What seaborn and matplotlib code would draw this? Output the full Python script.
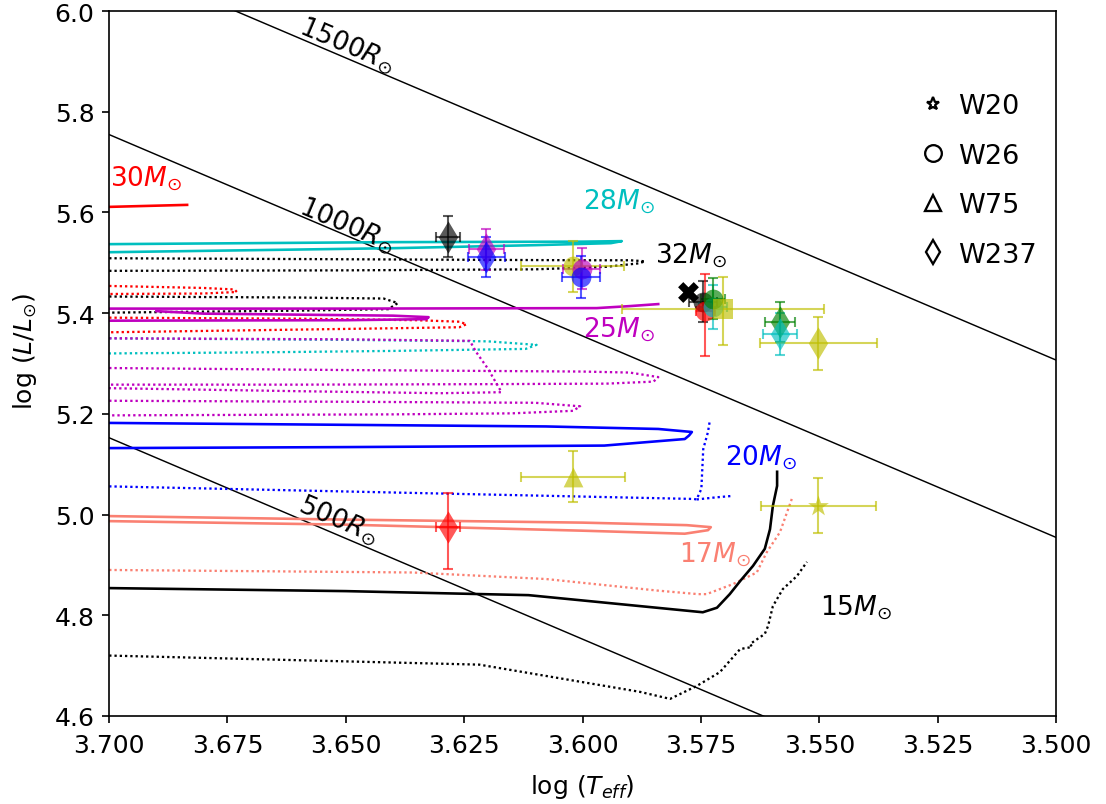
import matplotlib
matplotlib.use("Agg")
import matplotlib.pyplot as plt
from matplotlib.lines import Line2D
import numpy as np
import pandas as pd
import seaborn as sns

# ---------------------------------------------------------------
# Evolutionary tracks (log Teff, log L/Lsun); vertices beyond the
# left edge (log Teff > 3.70) only close loops that leave the frame.
# ---------------------------------------------------------------
m30_solid_T = [3.720, 3.700, 3.6835]
m30_solid_L = [5.609, 5.611, 5.615]
m30_dot_a_T = [3.720, 3.700, 3.680, 3.6735, 3.673, 3.680, 3.700, 3.720]
m30_dot_a_L = [5.455, 5.454, 5.450, 5.447, 5.442, 5.439, 5.438, 5.438]
m30_dot_b_T = [3.720, 3.700, 3.660, 3.635, 3.626, 3.6245, 3.626, 3.640, 3.670, 3.700, 3.720]
m30_dot_b_L = [5.391, 5.391, 5.389, 5.386, 5.383, 5.378, 5.372, 5.370, 5.366, 5.362, 5.361]

m28_solid_T = [3.720, 3.700, 3.640, 3.600, 3.5917, 3.594, 3.610, 3.640, 3.670, 3.700, 3.720]
m28_solid_L = [5.536, 5.537, 5.541, 5.542, 5.543, 5.539, 5.535, 5.529, 5.525, 5.521, 5.520]
m28_dot_T = [3.720, 3.700, 3.650, 3.620, 3.6097, 3.612, 3.640, 3.670, 3.700, 3.720]
m28_dot_L = [5.350, 5.350, 5.347, 5.344, 5.337, 5.329, 5.325, 5.322, 5.320, 5.320]

m32_dot_a_T = [3.720, 3.700, 3.650, 3.600, 3.590, 3.5868, 3.588, 3.595, 3.610, 3.650, 3.700, 3.720]
m32_dot_a_L = [5.509, 5.509, 5.507, 5.505, 5.505, 5.503, 5.499, 5.492, 5.487, 5.485, 5.484, 5.484]
m32_dot_b_T = [3.720, 3.700, 3.660, 3.642, 3.639, 3.641, 3.660, 3.700, 3.720]
m32_dot_b_L = [5.433, 5.433, 5.431, 5.429, 5.420, 5.408, 5.405, 5.401, 5.401]

m25_solid_a_T = [3.720, 3.700, 3.650, 3.597, 3.590, 3.584]
m25_solid_a_L = [5.409, 5.409, 5.409, 5.410, 5.414, 5.418]
m25_solid_b_T = [3.720, 3.700, 3.650, 3.633, 3.6325, 3.640, 3.660, 3.680, 3.690]
m25_solid_b_L = [5.385, 5.385, 5.386, 5.388, 5.392, 5.395, 5.397, 5.399, 5.404]
m25_dot_a_T = [3.720, 3.700, 3.650, 3.6238, 3.6224, 3.620, 3.6171, 3.630, 3.660, 3.700, 3.720]
m25_dot_a_L = [5.350, 5.350, 5.348, 5.345, 5.322, 5.290, 5.243, 5.241, 5.245, 5.251, 5.252]
m25_dot_b_T = [3.720, 3.700, 3.650, 3.600, 3.590, 3.584, 3.585, 3.595, 3.620, 3.660, 3.700, 3.720]
m25_dot_b_L = [5.291, 5.291, 5.287, 5.284, 5.282, 5.273, 5.264, 5.260, 5.259, 5.258, 5.258, 5.258]
m25_dot_c_T = [3.720, 3.700, 3.650, 3.610, 3.6005, 3.602, 3.615, 3.640, 3.700, 3.720]
m25_dot_c_L = [5.226, 5.226, 5.224, 5.222, 5.215, 5.206, 5.201, 5.199, 5.197, 5.197]

m20_solid_T = [3.720, 3.700, 3.6077, 3.584, 3.5769, 3.5775, 3.5784, 3.5954, 3.650, 3.700, 3.720]
m20_solid_L = [5.183, 5.182, 5.175, 5.170, 5.164, 5.157, 5.150, 5.137, 5.134, 5.132, 5.132]
m20_dot_a_T = [3.720, 3.700, 3.6359, 3.5765, 3.5759, 3.5749, 3.5745, 3.5735, 3.5731]
m20_dot_a_L = [5.057, 5.056, 5.043, 5.031, 5.030, 5.051, 5.130, 5.164, 5.187]
m20_dot_b_T = [3.5759, 3.5720, 3.5684]
m20_dot_b_L = [5.030, 5.034, 5.037]

m17_solid_T = [3.720, 3.700, 3.650, 3.600, 3.578, 3.5729, 3.5735, 3.5784, 3.600, 3.650, 3.700, 3.720]
m17_solid_L = [4.998, 4.997, 4.990, 4.984, 4.979, 4.975, 4.969, 4.962, 4.968, 4.980, 4.987, 4.987]
m17_dot_T = [3.720, 3.700, 3.6359, 3.6077, 3.5841, 3.5756, 3.5738, 3.5682, 3.5632, 3.5611, 3.5583, 3.5558]
m17_dot_L = [4.891, 4.890, 4.885, 4.872, 4.849, 4.842, 4.842, 4.862, 4.885, 4.925, 4.965, 5.031]

m15_solid_T = [3.720, 3.700, 3.650, 3.6114, 3.5746, 3.5716, 3.5689, 3.5667, 3.5640,
               3.5615, 3.5604, 3.5598, 3.5589, 3.5589]
m15_solid_L = [4.855, 4.854, 4.848, 4.840, 4.806, 4.815, 4.842, 4.868, 4.898,
               4.932, 4.971, 5.017, 5.057, 5.085]
m15_dot_T = [3.720, 3.700, 3.6218, 3.5879, 3.5815, 3.5758, 3.5710, 3.5667, 3.5642, 3.5646,
             3.5615, 3.5608, 3.5598, 3.5577, 3.5547, 3.5526]
m15_dot_L = [4.720, 4.720, 4.702, 4.648, 4.634, 4.660, 4.687, 4.733, 4.737, 4.743,
             4.763, 4.779, 4.818, 4.852, 4.878, 4.906]

# ---------------------------------------------------------------
# Observed stars
# ---------------------------------------------------------------
star_name = ["W237", "W237", "W237", "W26", "W26", "W26", "W26", "W26", "W26", "W26",
             "W26 alt", "W26 lit", "W237", "W237", "W237", "W75", "W20", "W237"]
method = ["A", "B", "C", "D", "B", "C", "A", "E", "G", "F",
          "D", "A", "F", "G", "D", "D", "D", "E"]
logT = [3.6284, 3.6203, 3.6203, 3.6021, 3.6002, 3.6004, 3.5745, 3.5741, 3.5724, 3.5724,
        3.5703, 3.5777, 3.5583, 3.5583, 3.5502, 3.6020, 3.5502, 3.6284]
logL = [5.552, 5.527, 5.512, 5.493, 5.488, 5.472, 5.423, 5.405, 5.412, 5.429,
        5.408, 5.441, 5.382, 5.359, 5.340, 5.075, 5.018, 4.975]
logT_err = [0.0025, 0.0037, 0.0039, 0.0109, 0.0040, 0.0040, 0.0030, 0.0020, 0.0030, 0.0025,
            0.0214, 0.0, 0.0032, 0.0035, 0.0123, 0.0109, 0.0122, 0.0026]
logL_err_lo = [0.040, 0.041, 0.040, 0.051, 0.041, 0.042, 0.040, 0.091, 0.044, 0.041,
               0.072, 0.0, 0.040, 0.042, 0.052, 0.051, 0.054, 0.083]
logL_err_hi = [0.040, 0.041, 0.040, 0.051, 0.041, 0.042, 0.040, 0.073, 0.044, 0.041,
               0.063, 0.0, 0.040, 0.042, 0.052, 0.051, 0.054, 0.067]

legend_stars = ["W20", "W26", "W75", "W237"]

radii = [1500, 1000, 500]          # constant-radius lines, in Rsun
radius_label_T = [3.6497, 3.6497, 3.6516]
radius_label_L = [5.934, 5.577, 4.991]
log_Tsun = np.log10(5772.0)

mass_labels = ["$30M_{\\odot}$", "$28M_{\\odot}$", "$32M_{\\odot}$", "$25M_{\\odot}$",
               "$20M_{\\odot}$", "$17M_{\\odot}$", "$15M_{\\odot}$"]
mass_label_T = [3.6998, 3.5999, 3.5847, 3.5999, 3.5699, 3.5796, 3.5498]
mass_label_L = [5.670, 5.623, 5.517, 5.369, 5.116, 4.922, 4.818]

x_ticks = [3.700, 3.675, 3.650, 3.625, 3.600, 3.575, 3.550, 3.525, 3.500]
y_ticks = [4.6, 4.8, 5.0, 5.2, 5.4, 5.6, 5.8, 6.0]

# ---------------------------------------------------------------
# Styling
# ---------------------------------------------------------------
track_colors = {"30": "r", "28": "c", "32": "k", "25": "m", "20": "b", "17": "salmon", "15": "k"}
mass_label_colors = ["r", "c", "k", "m", "b", "salmon", "k"]
method_colors = {"A": "k", "B": "m", "C": "b", "D": "y", "E": "r", "F": "g", "G": "c"}
star_markers = {"W20": "*", "W26": "o", "W75": "^", "W237": "d", "W26 alt": "s", "W26 lit": "X"}
marker_area = {"*": 110, "o": 90, "^": 90, "d": 120, "s": 90, "X": 100}

plt.rcParams["font.size"] = 12
DPI = 150
fig = plt.figure(figsize=(1106 / DPI, 805 / DPI), dpi=DPI)
ax = fig.add_axes([109 / 1106, 1 - 717 / 805, 947 / 1106, 705 / 805])

solid_kw = dict(lw=1.25, linestyle="-")
dot_kw = dict(lw=1.1, linestyle=(0, (1, 1.3)))

tracks = [
    ("30", m30_solid_T, m30_solid_L, solid_kw),
    ("30", m30_dot_a_T, m30_dot_a_L, dot_kw),
    ("30", m30_dot_b_T, m30_dot_b_L, dot_kw),
    ("28", m28_solid_T, m28_solid_L, solid_kw),
    ("28", m28_dot_T, m28_dot_L, dot_kw),
    ("32", m32_dot_a_T, m32_dot_a_L, dot_kw),
    ("32", m32_dot_b_T, m32_dot_b_L, dot_kw),
    ("25", m25_solid_a_T, m25_solid_a_L, solid_kw),
    ("25", m25_solid_b_T, m25_solid_b_L, solid_kw),
    ("25", m25_dot_a_T, m25_dot_a_L, dot_kw),
    ("25", m25_dot_b_T, m25_dot_b_L, dot_kw),
    ("25", m25_dot_c_T, m25_dot_c_L, dot_kw),
    ("20", m20_solid_T, m20_solid_L, solid_kw),
    ("20", m20_dot_a_T, m20_dot_a_L, dot_kw),
    ("20", m20_dot_b_T, m20_dot_b_L, dot_kw),
    ("17", m17_solid_T, m17_solid_L, solid_kw),
    ("17", m17_dot_T, m17_dot_L, dot_kw),
    ("15", m15_solid_T, m15_solid_L, solid_kw),
    ("15", m15_dot_T, m15_dot_L, dot_kw),
]
for mass, T, L, kw in tracks:
    sns.lineplot(x=T, y=L, sort=False, estimator=None, color=track_colors[mass],
                 ax=ax, zorder=2, **kw)

# lines of constant radius: log L = 2 log R + 4 (log T - log Tsun)
T_edges = np.array([3.70, 3.50])
for R, tx, ty in zip(radii, radius_label_T, radius_label_L):
    L_line = 2 * np.log10(R) + 4 * (T_edges - log_Tsun)
    sns.lineplot(x=T_edges, y=L_line, sort=False, estimator=None, color="k", lw=0.7, ax=ax, zorder=1)
    ax.text(tx, ty, f"${R}R_{{\\odot}}$", rotation=-23, ha="center", va="center",
            fontsize=12.6, rotation_mode="anchor")

for txt, tx, ty, c in zip(mass_labels, mass_label_T, mass_label_L, mass_label_colors):
    ax.text(tx, ty, txt, color=c, ha="left", va="center", fontsize=12.7)

# stars with error bars
pts = pd.DataFrame(dict(star=star_name, method=method, T=logT, L=logL, Terr=logT_err,
                        Llo=logL_err_lo, Lhi=logL_err_hi))
for _, p in pts.iterrows():
    c = method_colors[p.method]
    mk = star_markers[p.star]
    if p.Terr > 0 or p.Lhi > 0:
        ax.errorbar(p["T"], p["L"], xerr=p["Terr"], yerr=[[p["Llo"]], [p["Lhi"]]], fmt="none",
                    ecolor=c, alpha=0.65, elinewidth=1.0, capsize=2.6, capthick=1.0, zorder=3)
    alpha = 1.0 if mk == "X" else 0.65
    sns.scatterplot(x=[p["T"]], y=[p["L"]], marker=mk, s=marker_area[mk], color=c,
                    alpha=alpha, linewidth=0, ax=ax, zorder=4, legend=False)

handles = [Line2D([], [], marker=star_markers[s], linestyle="none", markerfacecolor="none",
                  markeredgecolor="k", markeredgewidth=1.1,
                  markersize=6.5 if s == "W20" else 8) for s in legend_stars]
ax.legend(handles, legend_stars, loc="upper right", bbox_to_anchor=(1.006, 0.918),
          frameon=False, fontsize=13, handlelength=1.0, handletextpad=0.45,
          labelspacing=0.87)

ax.set_xlim(3.70, 3.50)
ax.set_ylim(4.6, 6.0)
ax.set_xticks(x_ticks)
ax.set_xticklabels([f"{t:.3f}" for t in x_ticks])
ax.set_yticks(y_ticks)
ax.set_yticklabels([f"{t:.1f}" for t in y_ticks])
ax.tick_params(axis="x", pad=4.5)
ax.set_xlabel("log ($T_{eff}$)", fontsize=12)
ax.set_ylabel("log ($L/L_{\\odot}$)", fontsize=12)
ax.xaxis.set_label_coords(0.5, -0.079)
ax.yaxis.set_label_coords(-0.074, 0.518)

fig.savefig("out.png", dpi=DPI)
